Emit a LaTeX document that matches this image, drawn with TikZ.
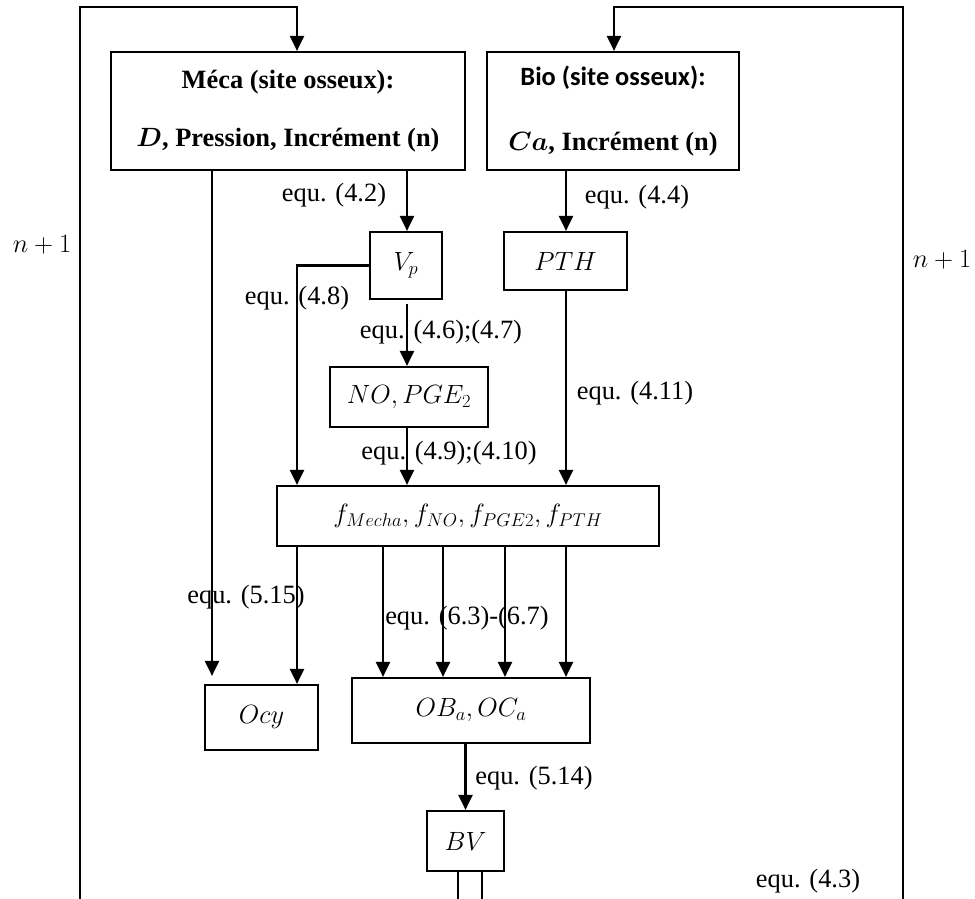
\documentclass[tikz,border=0pt]{standalone}
\usepackage{fix-cm}
\usepackage{fontspec}
\setmainfont{Liberation Serif}
\newfontfamily\carlito{Carlito}
\usetikzlibrary{arrows.meta,calc}
\begin{document}
\begin{tikzpicture}[x=1pt,y=-1pt,
  every node/.style={font=\fontsize{26.4pt}{30pt}\selectfont, inner sep=0pt},
  box/.style={draw, line width=2.2pt, align=center},
  ln/.style={line width=2.2pt},
  arr/.style={line width=2.2pt, -{Triangle[length=15pt,width=14pt]}}]
\useasboundingbox (0,0) rectangle (975,899);

% boxes
\node[box, minimum width=354pt, minimum height=118pt] (meca) at (288,111)
  {\textbf{Méca (site osseux):}\\[28pt]{\boldmath$D$}\textbf{, Pression, Incrément (n)}};
\node[box, minimum width=252pt, minimum height=118pt] (bio) at (613,111)
  {{\carlito\bfseries Bio (site osseux):}\\[35pt]{\boldmath$Ca$}\textbf{, Incrément (n)}};
\node[box, minimum width=72pt, minimum height=67pt] (vp) at (406,265.5) {$V_p$};
\node[box, minimum width=123pt, minimum height=58pt] (pth) at (565.5,261) {$PTH$};
\node[box, minimum width=158pt, minimum height=60pt] (no) at (409,397) {$NO, PGE_2$};
\node[box, minimum width=382pt, minimum height=60pt] (f) at (468,516)
  {$f_{Mecha}, f_{NO}, f_{PGE2}, f_{PTH}$};
\node[box, minimum width=113pt, minimum height=65pt] (ocy) at (261.5,717.5) {$Ocy$};
\node[box, minimum width=238pt, minimum height=65pt] (ob) at (471,710.5) {$OB_a, OC_a$};
\node[box, minimum width=77pt, minimum height=60pt] (bv) at (465.5,841) {$BV$};

% helper coordinates
\coordinate (lb) at (80,899);
\coordinate (lt) at (80,7);
\coordinate (mt) at (297,7);
\coordinate (rb) at (903,899);
\coordinate (rt) at (903,7);
\coordinate (bt) at (614,7);
\coordinate (xm) at (212,0);
\coordinate (xv) at (297,0);
\coordinate (xa) at (383,0);
\coordinate (xb) at (443,0);
\coordinate (xc) at (505,0);
\coordinate (xd) at (566,0);
\coordinate (xn) at (407,0);
\coordinate (d1) at (458,899);
\coordinate (d2) at (482,899);

% feedback loops
\draw[arr] (lb) -- (lt) -- (mt) -- (mt |- meca.north);
\draw[arr] (rb) -- (rt) -- (bt) -- (bt |- bio.north);

% top part
\draw[arr, shorten >=8pt] (xm |- meca.south) -- (xm |- ocy.north);
\draw[arr] (xn |- meca.south) -- (xn |- vp.north);
\draw[arr] (xd |- bio.south) -- (xd |- pth.north);
\draw[arr, shorten <=4pt] (xn |- vp.south) -- (xn |- no.north);
\draw[arr] (vp.west) -| (xv |- f.north);
\draw[arr] (xn |- no.south) -- (xn |- f.north);
\draw[arr] (xd |- pth.south) -- (xd |- f.north);

% lower part
\draw[arr] (xv |- f.south) -- (xv |- ocy.north);
\draw[arr] (xa |- f.south) -- (xa |- ob.north);
\draw[arr] (xb |- f.south) -- (xb |- ob.north);
\draw[arr] (xc |- f.south) -- (xc |- ob.north);
\draw[arr] (xd |- f.south) -- (xd |- ob.north);
\draw[arr] (bv.north |- ob.south) -- (bv.north);
\draw[ln] (d1 |- bv.south) -- (d1);
\draw[ln] (d2 |- bv.south) -- (d2);

% labels
\node (e42) at (334,195) {equ. (4.2)};
\node (e44) at (637,197) {equ. (4.4)};
\node (e48) at (297,298) {equ. (4.8)};
\node (e46) at (441,332) {equ. (4.6);(4.7)};
\node (e411) at (635,393) {equ. (4.11)};
\node (e49) at (449,453) {equ. (4.9);(4.10)};
\node (e515) at (246,597) {equ. (5.15)};
\node (e63) at (467,618) {equ. (6.3)-(6.7)};
\node (e514) at (534,778) {equ. (5.14)};
\node (e43) at (808,881) {equ. (4.3)};
\node (n1) at (42,245) {$n+1$};
\node (n2) at (942,260) {$n+1$};
\end{tikzpicture}
\end{document}
